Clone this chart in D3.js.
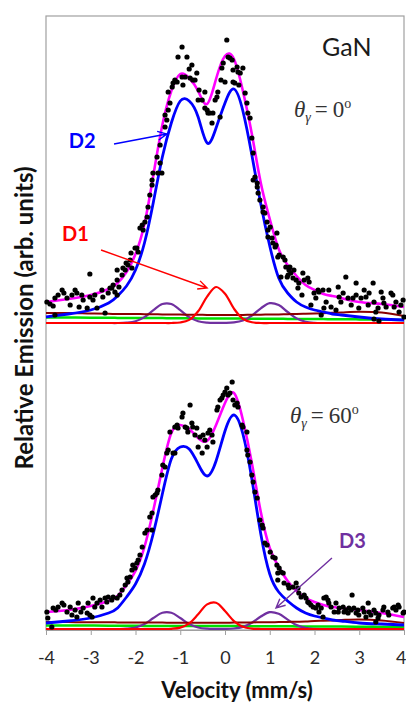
<!DOCTYPE html>
<html lang="en">
<head>
<meta charset="UTF-8">
<title>GaN emission spectra</title>
<script src="https://d3js.org/d3.v7.min.js"></script>
<style>
  body { margin: 0; background: #fff; }
  svg { display: block; }
  .tick text { font-family: Lato, "Open Sans", sans-serif; font-size: 18px; fill: #2a2a2a; }
  .lbl { font-family: Lato, "Open Sans", sans-serif; font-weight: bold; }
</style>
</head>
<body>
<div id="chart"></div>
<script>
// velocities at which the fitted curves were read (mm/s)
const grid = [-4, -3.5, -3, -2.6, -2.4, -2.2, -2, -1.8, -1.6, -1.4, -1.2, -1, -0.8, -0.6, -0.4, -0.2,
  0, 0.2, 0.4, 0.6, 0.8, 1, 1.2, 1.4, 1.6, 1.8, 2, 2.2, 2.4, 2.6, 3, 3.5, 4];
const xTicks = [-4, -3, -2, -1, 0, 1, 2, 3, 4];

// theta = 0 deg panel (arb. units)
const topFit    = [21, 24, 28, 34, 40, 51, 69, 99, 148, 198, 232, 249, 245, 232, 219, 244, 267, 264, 232, 189, 140, 104, 74, 58, 47, 38, 33, 29, 27, 25, 21, 19, 16];
const topD2     = [6, 9, 13, 20, 27, 37, 53, 80, 121, 166, 200, 222, 222, 206, 180, 195, 220, 234, 212, 168, 119, 77, 45, 30, 21, 16, 13, 11, 9, 8, 6, 4, 3];
const topD1     = [0, 0, 0, 0, 0, 0, 0, 0, 0, 0, 0, 0.5, 3.1, 11.7, 26.4, 36, 29.3, 14.3, 4.2, 0.7, 0, 0, 0, 0, 0, 0, 0, 0, 0, 0, 0, 0, 0];
const topD3     = [0, 0, 0, 0, 0, 0.4, 1.8, 5.9, 12.9, 19, 19, 12.9, 5.9, 1.8, 0.4, 0.1, 0.1, 0.6, 2.5, 7.4, 14.7, 19.8, 17.9, 11, 4.6, 1.3, 0.2, 0, 0, 0, 0, 0, 0];
const topBrown  = [10, 10, 9.5, 9.2, 9, 9, 9, 8.8, 8.7, 8.6, 8.5, 8.4, 8.3, 8.2, 8.1, 8, 8, 8, 8.1, 8.2, 8.3, 8.5, 8.6, 8.8, 9, 9.2, 9.5, 9.8, 10.2, 10.6, 11.3, 10.5, 7];
const topGreen  = [5.5, 5.5, 5.3, 5.2, 5.1, 5, 5, 5, 5, 4.9, 4.8, 4.8, 4.7, 4.6, 4.6, 4.5, 4.5, 4.4, 4.4, 4.3, 4.3, 4.2, 4.2, 4.1, 4.1, 4, 4, 3.9, 3.8, 3.7, 3.6, 3.3, 3];
const topData = [
  [-3.98,21],[-3.91,19],[-3.84,17],[-3.80,25],[-3.80,8],[-3.73,28],[-3.64,33],[-3.60,30],[-3.53,25],[-3.46,18],
  [-3.42,28],[-3.35,33],[-3.31,30],[-3.26,16],[-3.20,28],[-3.17,23],[-3.08,15],[-3.02,26],[-3.02,49],[-2.95,23],
  [-2.91,28],[-2.86,15],[-2.75,33],[-2.73,26],[-2.68,10],[-2.61,30],[-2.57,35],[-2.53,35],[-2.50,38],[-2.46,31],
  [-2.41,28],[-2.41,43],[-2.37,36],[-2.41,53],[-2.30,48],[-2.28,55],[-2.23,53],[-2.21,60],[-2.17,58],[-2.12,63],
  [-2.10,70],[-2.08,55],[-2.01,75],[-1.97,75],[-1.94,71],[-1.90,95],[-1.85,98],[-1.83,93],[-1.79,101],[-1.74,106],
  [-1.72,116],[-1.68,128],[-1.63,138],[-1.63,143],[-1.61,150],[-1.52,166],[-1.50,150],[-1.45,160],[-1.41,150],[-1.45,178],
  [-1.34,196],[-1.30,203],[-1.34,208],[-1.27,213],[-1.23,220],[-1.27,231],[-1.18,236],[-1.12,243],[-1.07,241],[-1.16,240],
  [-1.05,266],[-0.96,276],[-0.94,238],[-0.96,246],[-0.85,266],[-0.89,246],[-0.80,254],[-0.74,258],[-0.78,245],[-0.72,243],
  [-0.67,243],[-0.63,250],[-0.58,233],[-0.60,223],[-0.51,223],[-0.45,231],[-0.45,215],[-0.40,213],[-0.38,210],[-0.34,210],
  [-0.29,200],[-0.27,210],[-0.22,223],[-0.18,226],[-0.16,231],[-0.11,206],[-0.09,243],[-0.07,255],[-0.04,260],[0.00,241],
  [0.04,283],[0.07,266],[0.11,265],[0.16,263],[0.18,241],[0.18,253],[0.22,240],[0.27,256],[0.29,251],[0.34,250],
  [0.31,238],[0.40,255],[0.45,230],[0.49,220],[0.51,210],[0.56,205],[0.60,185],[0.63,170],[0.63,143],[0.67,146],
  [0.72,140],[0.72,136],[0.74,130],[0.78,123],[0.85,111],[0.85,116],[0.89,110],[0.94,101],[0.96,93],[0.96,86],
  [1.01,96],[1.05,85],[1.07,80],[1.12,76],[1.16,90],[1.18,66],[1.14,78],[1.21,68],[1.30,66],[1.25,46],
  [1.34,63],[1.36,56],[1.39,46],[1.43,53],[1.41,48],[1.45,56],[1.47,50],[1.54,53],[1.52,45],[1.59,43],
  [1.65,40],[1.63,35],[1.74,50],[1.77,43],[1.85,45],[1.88,41],[1.72,28],[1.92,18],[1.99,30],[2.03,25],
  [2.08,33],[2.10,31],[2.19,33],[2.15,8],[2.21,15],[2.26,21],[2.32,33],[2.37,16],[2.48,13],[2.53,36],
  [2.55,26],[2.64,30],[2.59,21],[2.70,46],[2.75,25],[2.82,18],[2.86,25],[2.93,40],[2.93,28],[2.99,15],
  [3.04,25],[3.11,33],[3.15,26],[3.20,18],[3.22,30],[3.31,40],[3.33,21],[3.37,11],[3.42,15],[3.49,31],
  [3.53,25],[3.55,20],[3.60,16],[3.71,30],[3.75,28],[3.78,16],[3.82,21],[3.89,11],[3.93,18],[3.98,23],
  [4.00,6],[3.33,4],[3.44,2]
];

// theta = 60 deg panel (arb. units)
const botFit    = [17, 19, 23, 28, 33, 44, 58, 82, 119, 161, 196, 204, 200, 191, 188, 204, 226, 236, 209, 166, 117, 81, 62, 48, 38, 31, 27, 24, 22, 21, 19, 16, 12];
const botD2     = [6, 8, 11, 16, 21, 32, 45, 65, 96, 135, 170, 182, 180, 165, 153, 168, 198, 214, 195, 150, 95, 55, 37, 28, 21, 16, 13, 11, 9, 8, 6, 5, 4];
const botD1     = [0, 0, 0, 0, 0, 0, 0, 0, 0, 0, 0.2, 1.4, 5.7, 14.7, 24.6, 26.3, 18, 7.9, 2.2, 0.4, 0, 0, 0, 0, 0, 0, 0, 0, 0, 0, 0, 0, 0];
const botD3     = [0, 0, 0, 0, 0, 0.3, 1.5, 5, 11, 16.2, 16.2, 11, 5, 1.5, 0.3, 0.1, 0.1, 0.5, 2.1, 6.3, 12.5, 16.8, 15.2, 9.4, 3.9, 1.1, 0.2, 0, 0, 0, 0, 0, 0];
const botBrown  = [7, 6.9, 6.8, 6.7, 6.6, 6.6, 6.5, 6.5, 6.4, 6.4, 6.3, 6.3, 6.3, 6.3, 6.3, 6.3, 6.3, 6.4, 6.5, 6.6, 6.7, 6.8, 6.9, 7.1, 7.3, 7.5, 8, 8.3, 8.6, 9, 9.5, 8.5, 6];
const botGreen  = [3.5, 3.5, 3.4, 3.3, 3.3, 3.2, 3.2, 3.1, 3.1, 3, 3, 3, 3, 3, 3, 3, 2.9, 2.9, 2.9, 2.8, 2.8, 2.8, 2.7, 2.7, 2.6, 2.6, 2.5, 2.5, 2.4, 2.4, 2.3, 2.1, 2];
const botData = [
  [-3.98,17],[-3.96,11],[-3.87,2],[-3.84,21],[-3.78,19],[-3.73,22],[-3.64,26],[-3.60,24],[-3.53,17],[-3.46,22],
  [-3.42,14],[-3.35,19],[-3.31,12],[-3.28,26],[-3.22,17],[-3.17,21],[-3.08,16],[-3.06,26],[-3.02,14],[-2.97,12],
  [-2.95,31],[-2.91,22],[-2.86,26],[-2.79,29],[-2.75,22],[-2.68,31],[-2.64,27],[-2.61,32],[-2.53,29],[-2.50,32],
  [-2.41,31],[-2.35,34],[-2.30,39],[-2.23,44],[-2.19,51],[-2.17,47],[-2.12,52],[-2.08,59],[-2.01,61],[-1.97,66],
  [-1.94,69],[-2.06,64],[-1.90,74],[-1.85,82],[-1.79,96],[-1.74,99],[-1.68,112],[-1.63,116],[-1.61,132],[-1.52,136],
  [-1.50,139],[-1.63,99],[-1.56,134],[-1.41,154],[-1.39,164],[-1.34,162],[-1.30,176],[-1.27,179],[-1.23,197],[-1.16,176],
  [-1.12,176],[-1.12,202],[-1.07,204],[-1.05,201],[-0.96,212],[-0.94,216],[-0.89,202],[-0.85,201],[-0.83,197],[-0.78,224],
  [-0.74,206],[-0.72,202],[-0.67,194],[-0.63,201],[-0.60,182],[-0.56,192],[-0.51,176],[-0.49,194],[-0.45,189],[-0.40,182],
  [-0.38,196],[-0.34,199],[-0.29,194],[-0.27,187],[-0.18,219],[-0.16,222],[-0.11,229],[-0.07,231],[-0.04,234],[0.00,237],
  [0.04,241],[0.07,234],[0.11,236],[0.16,247],[0.18,229],[0.22,224],[0.27,226],[0.29,222],[0.38,204],[0.40,202],
  [0.49,197],[0.49,179],[0.51,174],[0.56,167],[0.60,154],[0.63,147],[0.67,137],[0.72,131],[0.78,109],[0.83,104],
  [0.85,101],[0.89,86],[0.94,84],[1.01,77],[1.07,72],[1.12,71],[1.16,64],[1.18,56],[1.18,49],[1.21,61],
  [1.25,57],[1.30,56],[1.32,46],[1.41,44],[1.43,41],[1.52,42],[1.59,46],[1.63,41],[1.65,36],[1.70,32],
  [1.77,34],[1.81,31],[1.85,27],[1.88,26],[1.92,24],[1.97,22],[2.03,21],[2.08,24],[2.10,17],[2.15,21],
  [2.21,31],[2.26,32],[2.30,29],[2.32,26],[2.37,22],[2.44,17],[2.48,26],[2.53,17],[2.55,21],[2.64,22],
  [2.66,17],[2.70,19],[2.75,16],[2.77,21],[2.82,19],[2.84,34],[2.88,21],[2.93,16],[2.97,19],[2.99,14],
  [3.08,21],[3.11,17],[3.15,12],[3.20,26],[3.22,17],[3.26,14],[3.33,19],[3.37,16],[3.42,11],[3.44,14],
  [3.53,19],[3.55,22],[3.64,17],[3.66,14],[3.75,21],[3.78,22],[3.82,19],[3.87,24],[3.89,22],[3.98,16],
  [4.00,17],[2.19,12],[3.37,7]
];

const W = 406, H = 702;
const svg = d3.select("#chart").append("svg").attr("width", W).attr("height", H);

const x = d3.scaleLinear().domain([-4, 4]).range([46, 404]);
const yTop = d3.scaleLinear().domain([0, 300]).range([323, 23]);
const yBot = d3.scaleLinear().domain([0, 300]).range([629, 329]);

const colors = { fit: "#ff00ff", d2: "#0000ff", d1: "#ff0000", d3: "#7030a0", brown: "#8b0000", green: "#00e000" };

// frame
svg.append("rect").attr("x", 46).attr("y", 16).attr("width", 358).attr("height", 614)
  .attr("fill", "none").attr("stroke", "#a0a0a0").attr("stroke-width", 1.2);

function drawPanel(y, series, data) {
  const g = svg.append("g");
  series.forEach(s => {
    const line = d3.line()
      .x((d, i) => x(grid[i]))
      .y(d => y(d))
      .curve(s.smooth ? d3.curveNatural : d3.curveCatmullRom.alpha(0.5));
    g.append("path").attr("d", line(s.vals)).attr("fill", "none")
      .attr("stroke", s.color).attr("stroke-width", s.w);
  });
  g.selectAll("circle").data(data).join("circle")
    .attr("cx", d => x(d[0])).attr("cy", d => y(d[1])).attr("r", 2.6).attr("fill", "#000");
}

drawPanel(yTop, [
  { vals: topGreen, color: colors.green, w: 2.5 },
  { vals: topD3, color: colors.d3, w: 2.2 },
  { vals: topBrown, color: colors.brown, w: 2 },
  { vals: topD1, color: colors.d1, w: 2.2 },
  { vals: topD2, color: colors.d2, w: 2.8, smooth: true },
  { vals: topFit, color: colors.fit, w: 2.6, smooth: true }
], topData);

drawPanel(yBot, [
  { vals: botGreen, color: colors.green, w: 2.5 },
  { vals: botD3, color: colors.d3, w: 2.2 },
  { vals: botBrown, color: colors.brown, w: 2 },
  { vals: botD1, color: colors.d1, w: 2.2 },
  { vals: botD2, color: colors.d2, w: 2.8, smooth: true },
  { vals: botFit, color: colors.fit, w: 2.6, smooth: true }
], botData);

// x axis
const ax = svg.append("g").attr("transform", "translate(0,630)")
  .call(d3.axisBottom(x).tickValues(xTicks).tickSize(5).tickSizeOuter(0).tickFormat(d => String(d)));
ax.select(".domain").attr("stroke", "#a0a0a0").attr("stroke-width", 1.2);
ax.selectAll(".tick line").attr("stroke", "#a0a0a0");
ax.selectAll(".tick text").attr("y", 34).attr("dy", 0);
// last label sits on the window edge
ax.selectAll(".tick text").filter(d => d === 4).attr("text-anchor", "end").attr("x", 2);

svg.append("text").attr("class", "lbl").attr("x", 237).attr("y", 698)
  .attr("text-anchor", "middle").attr("font-size", 22).attr("fill", "#111").text("Velocity (mm/s)");

svg.append("text").attr("class", "lbl")
  .attr("transform", "translate(33,318) rotate(-90)")
  .attr("text-anchor", "middle").attr("font-size", 24).attr("fill", "#111")
  .text("Relative Emission (arb. units)");

// annotations
function arrow(y, from, to, color) {
  const x1 = x(from[0]), y1 = y(from[1]), x2 = x(to[0]), y2 = y(to[1]);
  const a = Math.atan2(y2 - y1, x2 - x1), L = 10, s = 0.45;
  svg.append("path")
    .attr("d", `M${x1},${y1}L${x2},${y2}M${x2 - L * Math.cos(a - s)},${y2 - L * Math.sin(a - s)}L${x2},${y2}L${x2 - L * Math.cos(a + s)},${y2 - L * Math.sin(a + s)}`)
    .attr("fill", "none").attr("stroke", color).attr("stroke-width", 1.4);
}
function label(y, pos, txt, color) {
  svg.append("text").attr("class", "lbl").attr("x", x(pos[0])).attr("y", y(pos[1]))
    .attr("font-size", 20).attr("fill", color).text(txt);
}
label(yTop, [-3.49, 175], "D2", colors.d2);
arrow(yTop, [-2.48, 179], [-1.30, 189], colors.d2);
label(yTop, [-3.64, 82], "D1", colors.d1);
arrow(yTop, [-2.77, 73], [-0.40, 35], colors.d1);
label(yBot, [2.55, 81], "D3", colors.d3);
arrow(yBot, [2.39, 71], [1.14, 21], colors.d3);

svg.append("text").attr("x", x(2.17)).attr("y", yTop(267))
  .attr("font-family", "Lato, 'Open Sans', sans-serif").attr("font-size", 25).attr("fill", "#1a1a1a").text("GaN");

function theta(y, pos, angle) {
  const t = svg.append("text").attr("x", x(pos[0])).attr("y", y(pos[1]))
    .attr("font-family", "'Liberation Serif', 'DejaVu Serif', serif").attr("fill", "#333");
  t.append("tspan").attr("font-style", "italic").attr("font-size", 23).text("θ");
  t.append("tspan").attr("font-style", "italic").attr("font-size", 14).attr("dy", 5).text("γ");
  t.append("tspan").attr("font-size", 23).attr("dy", -5).attr("dx", 4).text("=");
  t.append("tspan").attr("font-size", 23).attr("dx", 5).text(angle);
  t.append("tspan").attr("font-size", 14).attr("dy", -9).text("o");
}
theta(yTop, [1.54, 206], "0");
theta(yBot, [1.45, 206], "60");
</script>
</body>
</html>
